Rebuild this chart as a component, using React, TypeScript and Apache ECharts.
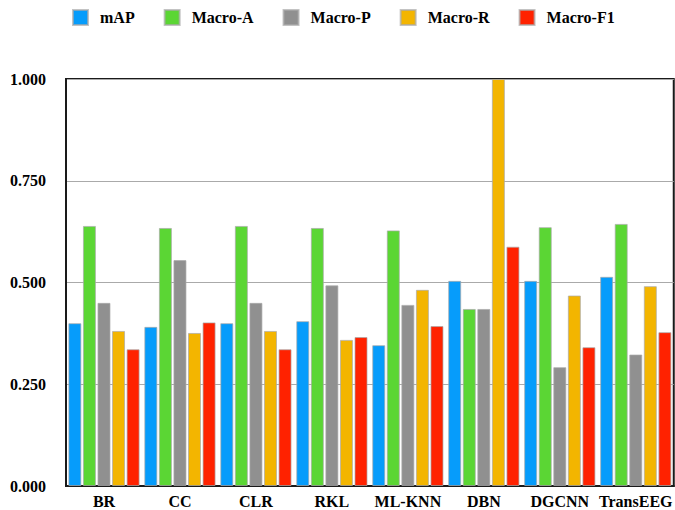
import React, { useEffect, useRef } from "react";
import * as echarts from "echarts";

const categories = ["BR", "CC", "CLR", "RKL", "ML-KNN", "DBN", "DGCNN", "TransEEG"];
const seriesNames = ["mAP", "Macro-A", "Macro-P", "Macro-R", "Macro-F1"];
const mAP = [0.4, 0.391, 0.4, 0.405, 0.346, 0.504, 0.504, 0.514];
const macroA = [0.639, 0.634, 0.639, 0.634, 0.628, 0.435, 0.636, 0.644];
const macroP = [0.45, 0.555, 0.45, 0.493, 0.445, 0.435, 0.292, 0.323];
const macroR = [0.381, 0.376, 0.381, 0.359, 0.482, 1.0, 0.468, 0.491];
const macroF1 = [0.336, 0.402, 0.336, 0.366, 0.393, 0.588, 0.341, 0.378];
const colors = ["#069CFB", "#5BD634", "#909090", "#F3B500", "#FF2200"];
const yTicks = [0, 0.25, 0.5, 0.75, 1.0];

const FONT = "'Liberation Serif', 'Times New Roman', serif";

export default function App() {
  const ref = useRef<HTMLDivElement>(null);
  useEffect(() => {
    if (!ref.current) return;
    const chart = echarts.init(ref.current, null, { renderer: "svg" });
    const values = [mAP, macroA, macroP, macroR, macroF1];
    chart.setOption({
      animation: false,
      legend: {
        data: seriesNames,
        left: 67,
        top: 4,
        itemWidth: 15,
        itemHeight: 15,
        itemGap: 29,
        icon: "rect",
        textStyle: {
          fontFamily: FONT,
          fontWeight: "bold",
          fontSize: 16,
          color: "#000",
          padding: [0, 0, 0, 7],
        },
      },
      grid: {
        left: 66,
        top: 79,
        height: 407,
        width: 616,
        show: true,
        borderColor: "#1a1a1a",
        borderWidth: 2,
        containLabel: false,
      },
      xAxis: {
        type: "category",
        data: categories,
        axisLine: { show: true, lineStyle: { color: "#1a1a1a", width: 2 } },
        axisTick: { show: false },
        axisLabel: {
          fontFamily: FONT,
          fontWeight: "bold",
          fontSize: 16,
          color: "#000",
          margin: 7,
          interval: 0,
        },
      },
      yAxis: {
        type: "value",
        min: yTicks[0],
        max: yTicks[yTicks.length - 1],
        interval: 0.25,
        axisLine: { show: true, lineStyle: { color: "#1a1a1a", width: 2 } },
        axisTick: { show: false },
        splitLine: { show: true, lineStyle: { color: "#aaaaaa", width: 1 } },
        axisLabel: {
          fontFamily: FONT,
          fontWeight: "bold",
          fontSize: 16,
          color: "#000",
          margin: 20,
          formatter: (v: number) => v.toFixed(3),
        },
      },
      series: seriesNames.map((name, i) => ({
        name,
        type: "bar",
        data: values[i],
        barWidth: 13,
        barGap: "12%",
        itemStyle: {
          color: colors[i],
          borderColor: "rgba(170,170,170,0.7)",
          borderWidth: 1,
        },
      })),
    });
    return () => chart.dispose();
  }, []);
  return <div ref={ref} style={{ width: 675, height: 510, position: "absolute", left: 0, top: 0 }} />;
}
